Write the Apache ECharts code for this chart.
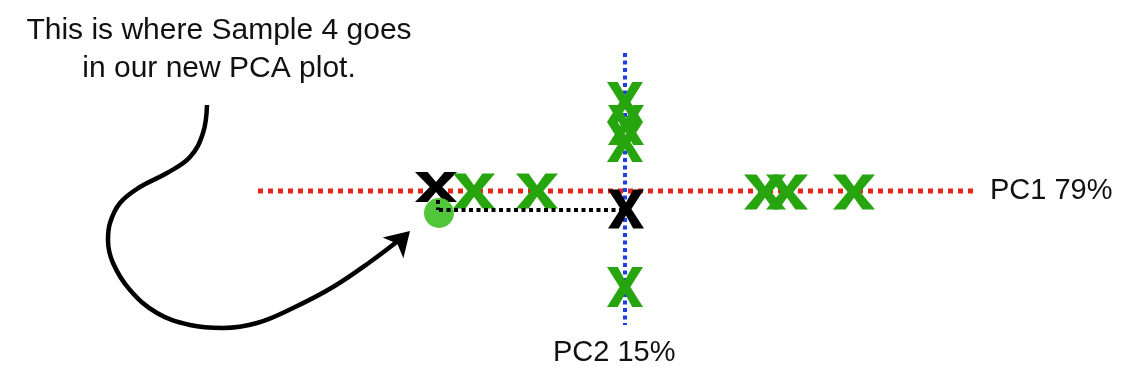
<!DOCTYPE html>
<html>
<head>
<meta charset="utf-8">
<script src="https://cdn.jsdelivr.net/npm/echarts@6/dist/echarts.min.js"></script>
<style>html,body{margin:0;padding:0;background:#fff}#c{width:1138px;height:382px}</style>
</head>
<body>
<div id="c"></div>
<script>
// PC scores (1 unit = arbitrary PCA unit)
const pc1Samples = [[-15.1, 0.0], [-8.8, 0.0], [14.0, -0.1], [16.2, -0.1], [22.9, -0.1]];
const pc2Samples = [[0.0, 8.9], [0.1, 6.6], [0.0, 4.9], [0.0, -9.6]];
const sample4OnPc1 = [[-18.9, 0.4]];
const sample4OnPc2 = [[0.1, -1.8]];
const sample4New = [[-18.6, -2.2]];
const pc1Axis = [[-36.7, 0], [35.0, 0]];
const pc2Axis = [[0, 13.8], [0, -13.4]];
const projH = [[-18.6, -1.9], [0, -1.9]];
const projV = [[-18.7, -0.9], [-18.7, -1.9]];
const arrowCurve = [[-41.8, 8.6], [-42.2, 5.8], [-43.5, 3.4], [-45.8, 1.8], [-48.5, 0.4], [-50.5, -1.2], [-51.5, -3.2], [-51.7, -4.9], [-51.2, -7.2], [-49.5, -9.9], [-46.8, -12.2], [-43.5, -13.4], [-40.2, -13.7], [-36.8, -13.2], [-33.2, -11.7], [-29.2, -9.6], [-25.5, -7.1], [-22.2, -4.6]];
const arrowTip = [[-21.5, -4.0]];
const labels = {
  note: ["This is where Sample 4 goes", "in our new PCA plot."],
  pc1: "PC1 79%",
  pc2: "PC2 15%"
};

const XPATH = 'path://M0,0 L30,0 L50,28 L70,0 L100,0 L65,42 L100,84 L70,84 L50,56 L30,84 L0,84 L35,42 Z';
const GREEN = '#27a50f';
const FONT = '"Liberation Sans", Arial, sans-serif';

const chart = echarts.init(document.getElementById('c'), null, {renderer: 'canvas'});
chart.setOption({
  animation: false,
  backgroundColor: '#ffffff',
  grid: {left: 0, right: 0, top: 0, bottom: 0},
  xAxis: {type: 'value', min: -62.5, max: 51.3, show: false},
  yAxis: {type: 'value', min: -19.1, max: 19.1, show: false},
  graphic: [
    {type: 'text', x: 219, y: 12, style: {text: labels.note.join('\n'), align: 'center', font: '30px ' + FONT, lineHeight: 38, fill: '#111'}},
    {type: 'text', left: 990, top: 176, style: {text: labels.pc1, font: '29px ' + FONT, fill: '#111'}},
    {type: 'text', left: 553, top: 338, style: {text: labels.pc2, font: '29px ' + FONT, fill: '#111'}}
  ],
  series: [
    {type: 'line', data: pc1Axis, symbol: 'none', lineStyle: {color: '#e3261c', width: 5, type: [5, 5], cap: 'butt'}, z: 1},
    {type: 'line', data: pc2Axis, symbol: 'none', lineStyle: {color: '#1b3fe0', width: 4, type: [4, 3.5], cap: 'butt'}, z: 1},
    {type: 'line', data: projH, symbol: 'none', lineStyle: {color: '#000', width: 4, type: [4, 3.5], cap: 'butt'}, z: 4},
    {type: 'line', data: projV, symbol: 'none', lineStyle: {color: '#000', width: 4, type: [4, 3.5], cap: 'butt'}, z: 4},
    {type: 'line', data: arrowCurve, symbol: 'none', smooth: 0.4, lineStyle: {color: '#000', width: 4.5}, z: 5},
    {type: 'scatter', data: arrowTip, symbol: 'arrow', symbolSize: [22, 24], symbolRotate: -45, itemStyle: {color: '#000', opacity: 1}, z: 5},
    {type: 'scatter', data: sample4OnPc1, symbol: XPATH, symbolSize: [42, 30], itemStyle: {color: '#000', opacity: 1}, z: 2},
    {type: 'scatter', data: sample4New, symbol: 'circle', symbolSize: 30, itemStyle: {color: '#52c63a', opacity: 1}, z: 3},
    {type: 'scatter', data: pc1Samples, symbol: XPATH, symbolSize: [42, 35], itemStyle: {color: GREEN, opacity: 1}, z: 2},
    {type: 'scatter', data: pc2Samples, symbol: XPATH, symbolSize: [36, 40], itemStyle: {color: GREEN, opacity: 1}, z: 2},
    {type: 'scatter', data: sample4OnPc2, symbol: XPATH, symbolSize: [36, 39], itemStyle: {color: '#000', opacity: 1}, z: 5}
  ]
});
</script>
</body>
</html>
